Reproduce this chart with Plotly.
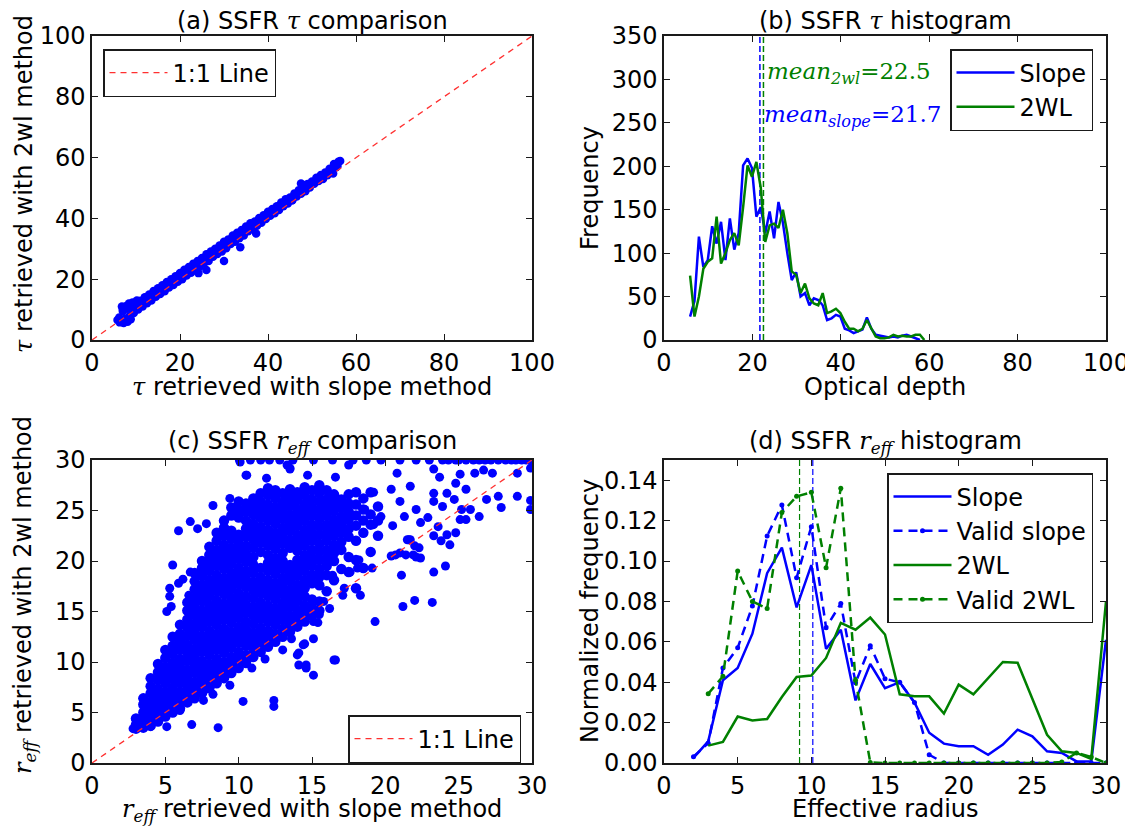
import plotly.graph_objects as go

# page body adds an 8px margin; the figure is laid out in reference pixels minus that offset
OFF = 8
W, H = 1125, 819

# ---------------- Panel (a): tau comparison ----------------
a_x = [6.2, 7, 8, 9, 10, 11, 12, 13, 14, 15, 16, 17, 18, 19, 20, 21, 22, 23, 24, 25, 26, 27, 28, 29, 30,
       31, 32, 33, 34, 35, 36, 37, 38, 39, 40, 41, 42, 43, 44, 45, 46, 47, 48, 49, 50, 51, 52, 53, 54, 55, 56,
       6.5, 7.5, 8.5, 9.5, 10.5, 11.5, 12.5, 13.5, 14.5, 15.5, 16.5, 17.5, 18.5, 19.5, 20.5, 21.5, 22.5, 23.5,
       24.5, 25.5, 26.5, 27.5, 28.5, 29.5, 30.5, 31.5, 32.5, 33.5, 34.5, 35.5, 36.5, 37.5, 38.5, 39.5, 40.5,
       41.5, 42.5, 43.5, 44.5, 45.5, 46.5, 47.5, 48.5, 49.5, 50.5, 51.5, 52.5, 53.5, 54.5, 55.5,
       6.3, 7.2, 8.1, 8.8, 7.8, 8.4, 9.2, 10.2, 5.8, 6.8, 7.0, 30.0, 33.7, 26.0, 24.2, 37.3, 48.0, 47.5, 45.5,
       54.8, 56.4, 55.8, 51.8]
a_y = [7.4, 9.5, 10.3, 11.0, 12.0, 12.9, 14.1, 15.0, 16.1, 17.0, 18.0, 19.1, 20.0, 21.0, 22.0, 23.1, 24.0, 25.1,
       26.0, 27.0, 28.2, 29.1, 30.0, 31.1, 32.3, 33.1, 34.4, 35.3, 36.2, 37.3, 38.4, 39.0, 40.1, 41.0, 42.2,
       43.1, 44.0, 45.2, 46.3, 46.9, 48.2, 49.3, 50.4, 51.3, 52.1, 53.4, 54.3, 55.1, 56.3, 57.9, 58.6,
       6.2, 7.0, 7.8, 8.9, 10.0, 11.0, 12.1, 13.0, 14.2, 15.1, 16.0, 17.3, 18.1, 19.2, 20.0, 21.2, 22.1, 23.0,
       24.2, 25.3, 26.0, 27.4, 28.3, 29.1, 30.2, 31.6, 32.3, 33.5, 34.4, 35.8, 36.5, 37.6, 38.6, 39.8, 40.9,
       41.7, 42.8, 44.0, 44.9, 46.0, 47.2, 48.1, 48.9, 50.2, 51.4, 52.3, 53.0, 54.2, 55.6, 56.8,
       5.8, 5.6, 6.0, 6.8, 11.2, 12.0, 12.3, 13.0, 6.6, 11.0, 10.2, 26.0, 30.5, 23.0, 22.0, 35.0, 51.0, 51.5, 46.0,
       54.8, 58.9, 57.2, 53.0]
one_to_one_a = [0, 100]

# ---------------- Panel (b): tau histogram ----------------
b_bins = [5.9, 6.9, 7.9, 8.9, 9.9, 10.9, 11.9, 12.9, 13.9, 14.9, 15.9, 16.9, 17.9, 18.9, 19.9, 20.9, 21.9,
          22.9, 23.9, 24.9, 25.9, 26.9, 27.9, 28.9, 29.9, 30.9, 31.9, 32.9, 33.9, 34.9, 35.9, 36.9, 37.9,
          38.9, 39.9, 40.9, 41.9, 42.9, 43.9, 44.9, 45.9, 46.9, 47.9, 48.9, 49.9, 50.9, 51.9, 52.9, 53.9,
          54.9, 55.9, 56.9, 57.9, 58.9]
b_slope = [27, 45, 119, 84, 92, 131, 111, 136, 92, 140, 104, 123, 201, 209, 198, 142, 153, 123, 148, 117,
           159, 135, 100, 69, 78, 50, 54, 40, 48, 46, 40, 23, 25, 29, 27, 13, 11, 8, 10, 12, 26, 13, 6, 5,
           4, 3, 4, 3, 5, 6, 4, 2, 0, None]
b_2wl = [74, 27, 50, 82, 90, 94, 142, 88, 100, 115, 123, 109, 153, 201, 188, 205, 175, 113, 132, 134, 129,
         150, 123, 79, 75, 54, 65, 48, 42, 40, 54, 31, 33, 36, 31, 21, 13, 13, 10, 13, 23, 13, 4, 2, 2, 3,
         6, 4, 5, 4, 4, 6, 6, 0]
b_mean_slope = 21.7
b_mean_2wl = 22.5
b_ymax = 350

# ---------------- Panel (c): r_eff comparison ----------------
c_core_cols_x = [3.0, 3.5, 4.0, 4.5, 5.0, 5.5, 6.0, 6.5, 7.0, 7.5, 8.0, 8.5, 9.0, 9.5, 10.0, 10.5, 11.0,
                 11.5, 12.0, 12.5, 13.0, 13.5, 14.0, 14.5, 15.0, 15.5, 16.0, 16.5, 17.0, 17.5, 18.0, 18.5,
                 19.0, 19.5]
c_core_cols_y = [
    [3.4, 3.8, 4.4],
    [3.5, 4.2, 5.0, 5.8, 6.4],
    [3.7, 4.5, 5.3, 6.0, 6.9, 7.6, 8.4],
    [4.1, 4.9, 5.7, 6.5, 7.3, 8.2, 9.0, 9.8],
    [4.6, 5.4, 6.2, 7.0, 7.9, 8.7, 9.5, 10.4, 11.2],
    [5.0, 5.8, 6.6, 7.4, 8.3, 9.1, 9.9, 10.8, 11.6, 12.5],
    [5.4, 6.2, 7.0, 7.9, 8.7, 9.5, 10.3, 11.2, 12.0, 12.8, 13.7],
    [6.0, 6.8, 7.6, 8.4, 9.2, 10.1, 10.9, 11.7, 12.6, 13.4, 14.2, 15.1, 15.9],
    [6.4, 7.2, 8.0, 8.9, 9.7, 10.5, 11.3, 12.2, 13.0, 13.8, 14.7, 15.5, 16.3, 17.2, 18.0, 18.8],
    [6.9, 7.7, 8.5, 9.3, 10.1, 11.0, 11.8, 12.6, 13.5, 14.3, 15.1, 16.0, 16.8, 17.6, 18.5, 19.3, 20.0],
    [7.4, 8.2, 9.0, 9.8, 10.7, 11.5, 12.3, 13.1, 14.0, 14.8, 15.6, 16.5, 17.3, 18.1, 19.0, 19.8, 20.6, 21.4],
    [7.9, 8.7, 9.5, 10.3, 11.2, 12.0, 12.8, 13.7, 14.5, 15.3, 16.1, 17.0, 17.8, 18.6, 19.5, 20.3, 21.1,
     22.0, 22.8],
    [8.4, 9.2, 10.0, 10.9, 11.7, 12.5, 13.3, 14.2, 15.0, 15.8, 16.7, 17.5, 18.3, 19.2, 20.0, 20.8, 21.6,
     22.5, 23.3, 24.0],
    [8.9, 9.7, 10.5, 11.4, 12.2, 13.0, 13.9, 14.7, 15.5, 16.3, 17.2, 18.0, 18.8, 19.7, 20.5, 21.3, 22.2,
     23.0, 24.5, 25.3],
    [9.4, 10.2, 11.0, 11.9, 12.7, 13.5, 14.4, 15.2, 16.0, 16.8, 17.7, 18.5, 19.3, 20.2, 21.0, 21.8, 22.6,
     24.3, 25.1, 25.9],
    [9.9, 10.7, 11.6, 12.4, 13.2, 14.0, 14.9, 15.7, 16.5, 17.4, 18.2, 19.0, 19.9, 20.7, 21.5, 22.4, 23.2,
     24.0, 24.9, 25.7],
    [10.5, 11.3, 12.1, 12.9, 13.8, 14.6, 15.4, 16.3, 17.1, 17.9, 18.8, 19.6, 20.4, 21.3, 22.1, 22.9, 23.7,
     24.6, 25.4, 26.2],
    [11.0, 11.8, 12.6, 13.4, 14.3, 15.1, 15.9, 16.8, 17.6, 18.4, 19.3, 20.9, 21.8, 22.6, 23.4, 24.3, 25.1,
     25.9, 26.7],
    [11.5, 12.3, 13.1, 14.0, 14.8, 15.6, 16.5, 17.3, 18.1, 19.0, 19.8, 20.6, 21.5, 22.3, 23.1, 24.0, 24.8,
     25.6, 26.5, 27.2],
    [12.0, 12.8, 13.7, 14.5, 15.3, 16.2, 17.0, 17.8, 18.7, 19.5, 20.3, 21.2, 22.0, 22.8, 23.7, 24.5, 25.3,
     26.2, 27.0],
    [12.5, 13.3, 14.2, 15.0, 15.8, 16.7, 17.5, 18.3, 19.2, 20.0, 20.8, 21.7, 22.5, 23.3, 24.2, 25.0, 25.8,
     26.7],
    [13.0, 13.8, 14.6, 15.5, 16.3, 17.1, 18.0, 18.8, 19.6, 21.3, 22.1, 23.0, 23.8, 24.6, 25.5, 26.3, 27.1],
    [13.5, 14.3, 15.1, 16.0, 16.8, 17.6, 18.5, 19.3, 20.1, 21.0, 21.8, 22.6, 23.5, 24.3, 25.1, 26.0, 26.8],
    [14.0, 14.8, 15.6, 16.5, 17.3, 18.1, 19.0, 19.8, 20.6, 21.5, 22.3, 23.1, 24.0, 24.8, 25.6, 26.5, 27.3],
    [14.6, 15.4, 16.2, 17.8, 18.6, 19.5, 20.3, 21.1, 22.0, 22.8, 23.6, 24.5, 25.3, 26.1, 27.0],
    [15.1, 16.0, 17.6, 18.4, 19.2, 20.1, 20.9, 21.7, 22.6, 23.4, 24.2, 25.1, 25.9, 26.7, 27.5],
    [17.0, 18.6, 19.5, 20.3, 21.1, 22.0, 22.8, 23.6, 24.5, 25.3, 26.1, 27.0],
    [18.1, 20.0, 20.8, 21.6, 22.5, 23.3, 24.1, 25.0, 25.8, 26.6],
    [19.2, 21.1, 21.9, 22.8, 23.6, 24.4, 25.3, 26.1],
    [18.9, 20.4, 22.4, 23.2, 24.1, 24.9, 25.7, 26.6],
    [17.3, 20.1, 22.0, 23.5, 24.5, 25.6, 26.8],
    [19.3, 22.8, 24.0, 25.1, 26.2],
    [20.9, 23.6, 24.6, 26.8],
    [22.5, 24.0, 25.4],
]
c_extra_x = [10.05, 10.8, 11.5, 12.1, 12.8, 13.7, 15.1, 16.4, 17.8, 18.7, 19.7, 21.0, 22.1, 23.0, 23.9,
             24.3, 24.8, 25.0, 25.5, 26.0, 26.4, 26.8, 27.2, 27.7, 28.2, 28.6, 28.9, 29.3, 29.6, 30.0,
             10.55, 11.9, 13.5, 14.7, 16.6, 17.5, 20.8, 23.3, 23.7, 25.1, 26.1, 26.7, 27.3, 29.0, 29.9, 13.3,
             23.3, 24.2, 24.8, 25.5, 22.9, 23.6, 24.2, 24.8, 25.5, 25.8, 26.4, 26.9, 27.7, 27.9, 29.0, 29.9,
             29.9, 23.3, 23.9, 24.7, 25.2, 23.3, 23.8, 24.4, 25.1,
             20.4, 21.0, 21.7, 22.1, 21.3, 20.5, 19.7, 19.2, 18.6, 19.2, 21.7, 22.4, 20.4, 21.0, 21.9, 22.4,
             22.0, 21.6,
             16.2, 15.5, 15.1, 15.1, 14.4, 14.6, 15.1, 16.5, 19.3, 21.2, 22.0, 23.2, 21.1, 23.3, 24.1, 20.7,
             21.4, 22.1, 22.3, 21.5, 19.0, 18.2, 18.1, 17.6, 16.4, 15.5, 16.0, 15.8, 17.2, 18.0, 17.1, 14.1,
             14.1, 14.6, 16.6, 15.4, 14.5, 14.0, 19.1, 18.3,
             5.9, 5.5, 5.3, 5.3, 5.1, 5.4, 6.7, 6.6, 5.9, 6.2, 6.7, 8.25, 7.2, 7.8, 9.4, 10.5, 10.1, 13.5,
             2.8, 3.1, 5.1, 6.8, 8.6, 10.3, 12.4, 12.4, 9.4, 8.25, 4.0, 6.0, 7.6, 10.9, 11.8, 13.0, 13.6]
c_extra_y = [30, 30, 30, 30, 30, 30, 30, 30, 30, 30, 30, 30, 30, 30, 30,
             30, 30, 30, 30, 30, 30, 30, 30, 30, 30, 30, 30, 30, 30, 30,
             28.5, 28.2, 29.1, 28.5, 28.3, 29.5, 28.7, 29.1, 28.3, 28.6, 28.7, 29.0, 28.7, 28.7, 29.2, 29.5,
             26.7, 26.7, 27.7, 27.1, 24.3, 23.4, 22.6, 22.8, 24.1, 25.1, 24.4, 26.1, 26.4, 25.3, 26.4, 26.0,
             25.1, 25.9, 25.4, 26.1, 25.1, 22.5, 22.0, 21.6, 24.1,
             27.1, 25.9, 27.4, 25.1, 24.4, 23.5, 24.4, 23.6, 25.1, 26.8, 22.1, 23.8, 20.5, 20.8, 20.6, 20.3,
             21.5, 22.1,
             15.3, 14.7, 14.0, 12.3, 11.7, 9.7, 8.7, 10.2, 14.0, 15.5, 16.1, 15.9, 18.6, 18.9, 19.5, 20.6,
             20.6, 20.4, 21.3, 22.1, 20.9, 20.1, 19.3, 18.9, 18.6, 18.9, 17.0, 16.0, 17.3, 17.3, 16.6, 10.9,
             9.7, 9.4, 10.2, 13.9, 11.8, 10.7, 19.3, 16.6,
             23.0, 19.6, 17.3, 16.5, 15.0, 15.5, 23.9, 16.6, 17.8, 18.2, 18.9, 25.5, 23.2, 23.7, 26.2, 28.5,
             29.8, 29.2,
             3.4, 3.5, 3.6, 3.8, 3.5, 6.1, 6.2, 5.6, 7.7, 6.8, 3.6, 5.2, 6.2, 9.4, 10.3, 11.2, 12.3]
one_to_one_c = [0, 30]

# ---------------- Panel (d): r_eff histogram ----------------
d_bins = [2, 3, 4, 5, 6, 7, 8, 9, 10, 11, 12, 13, 14, 15, 16, 17, 18, 19, 20, 21, 22, 23, 24, 25, 26, 27,
          28, 29, 30]
d_slope = [0.0025, 0.0107, 0.041, 0.047, 0.064, 0.094, 0.1066, 0.077, 0.098, 0.0565, 0.066, 0.031, 0.049,
           0.037, 0.040, 0.030, 0.015, 0.0096, 0.0083, 0.0083, 0.0041, 0.0091, 0.0165, 0.0132, 0.0058,
           0.005, 0.0008, 0.0008, 0.061]
d_valid_slope = [0.0031, 0.0098, 0.047, 0.057, 0.0777, 0.1124, 0.1277, 0.0917, 0.117, 0.067, 0.079,
                 0.0397, 0.058, 0.0417, 0.040, 0.030, 0.0041, 0, 0, 0, 0, 0, 0, 0, 0, 0, 0, 0, 0]
d_2wl = [None, 0.0086, 0.0104, 0.023, 0.021, 0.0218, 0.0327, 0.0426, 0.0433, 0.052, 0.0694, 0.066, 0.072,
         0.0636, 0.034, 0.033, 0.033, 0.0245, 0.0388, 0.034, 0.042, 0.050, 0.0496, 0.032, 0.014, 0.0058,
         0.005, 0.002, 0.080]
d_valid_2wl = [None, 0.0343, 0.0429, 0.095, 0.080, 0.0765, 0.124, 0.132, 0.134, 0.0967, 0.136, 0.041,
               0.0003, 0, 0, 0, 0, 0, 0, 0, 0, 0, 0, 0, 0, 0.0005, 0.005, 0.003, 0]
d_mean_slope = 10.1
d_mean_2wl = 9.2
d_ymax = 0.15

# ---------------- styling ----------------
BLUE = "#0000FF"
GREEN = "#008000"
RED = "#FF3030"
SANS = "DejaVu Sans"
SERIF = "DejaVu Serif"
FS = 24


def px(xp):
    return (xp - OFF) / W


def py(yp):
    return 1 - (yp - OFF) / H


def m(s):
    return '<span style="font-family:%s"><i>%s</i></span>' % (SERIF, s)


REFF = '<span style="font-family:%s"><i>r</i><sub><i>eff</i></sub></span>' % SERIF

fig = go.Figure()

# (a)
fig.add_trace(go.Scatter(x=a_x, y=a_y, mode="markers", xaxis="x", yaxis="y", showlegend=False,
                         marker=dict(color=BLUE, size=8.5, line=dict(width=0))))
fig.add_trace(go.Scatter(x=one_to_one_a, y=one_to_one_a, mode="lines", xaxis="x", yaxis="y",
                         name="1:1 Line", legend="legend",
                         line=dict(color=RED, width=1.3, dash="6px,5px")))

# (b)
fig.add_trace(go.Scatter(x=[b_mean_slope, b_mean_slope], y=[0, b_ymax], mode="lines", xaxis="x2",
                         yaxis="y2", showlegend=False, line=dict(color=BLUE, width=1.5, dash="6px,3px")))
fig.add_trace(go.Scatter(x=[b_mean_2wl, b_mean_2wl], y=[0, b_ymax], mode="lines", xaxis="x2",
                         yaxis="y2", showlegend=False, line=dict(color=GREEN, width=1.5, dash="6px,3px")))
fig.add_trace(go.Scatter(x=b_bins, y=b_slope, mode="lines", xaxis="x2", yaxis="y2", name="Slope",
                         legend="legend2", line=dict(color=BLUE, width=2.5)))
fig.add_trace(go.Scatter(x=b_bins, y=b_2wl, mode="lines", xaxis="x2", yaxis="y2", name="2WL",
                         legend="legend2", line=dict(color=GREEN, width=2.5)))

# (c)
c_x = []
c_y = []
for cx, ys in zip(c_core_cols_x, c_core_cols_y):
    for yv in ys:
        c_x.append(cx)
        c_y.append(yv)
fig.add_trace(go.Scatter(x=c_x, y=c_y, mode="markers", xaxis="x3", yaxis="y3", showlegend=False,
                         marker=dict(color=BLUE, size=10.5, line=dict(width=0))))
fig.add_trace(go.Scatter(x=c_extra_x, y=c_extra_y, mode="markers", xaxis="x3", yaxis="y3", showlegend=False,
                         marker=dict(color=BLUE, size=9, line=dict(width=0))))
fig.add_trace(go.Scatter(x=one_to_one_c, y=one_to_one_c, mode="lines", xaxis="x3", yaxis="y3",
                         name="1:1 Line", legend="legend3",
                         line=dict(color=RED, width=1.3, dash="6px,5px")))

# (d)
fig.add_trace(go.Scatter(x=[d_mean_2wl, d_mean_2wl], y=[0, d_ymax], mode="lines", xaxis="x4", yaxis="y4",
                         showlegend=False, line=dict(color=GREEN, width=1.2, dash="6px,3px")))
fig.add_trace(go.Scatter(x=[d_mean_slope, d_mean_slope], y=[0, d_ymax], mode="lines", xaxis="x4",
                         yaxis="y4", showlegend=False, line=dict(color=BLUE, width=1.2, dash="6px,3px")))
fig.add_trace(go.Scatter(x=d_bins, y=d_slope, mode="lines", xaxis="x4", yaxis="y4", name="Slope",
                         legend="legend4", line=dict(color=BLUE, width=2.5)))
fig.add_trace(go.Scatter(x=d_bins, y=d_valid_slope, mode="lines+markers", xaxis="x4", yaxis="y4",
                         name="Valid slope", legend="legend4",
                         line=dict(color=BLUE, width=2.5, dash="9px,6px"), marker=dict(color=BLUE, size=5)))
fig.add_trace(go.Scatter(x=d_bins, y=d_2wl, mode="lines", xaxis="x4", yaxis="y4", name="2WL",
                         legend="legend4", line=dict(color=GREEN, width=2.5)))
fig.add_trace(go.Scatter(x=d_bins, y=d_valid_2wl, mode="lines+markers", xaxis="x4", yaxis="y4",
                         name="Valid 2WL", legend="legend4",
                         line=dict(color=GREEN, width=2.5, dash="9px,6px"), marker=dict(color=GREEN, size=5)))


def axis(domain, rng, dtick, anchor, fmt=None, tickvals=None):
    d = dict(domain=domain, range=rng, anchor=anchor, showgrid=False, zeroline=False,
             showline=True, linecolor="#1a1a1a", linewidth=1.5, mirror="ticks",
             ticks="inside", ticklen=6, tickwidth=1, tickcolor="#1a1a1a", automargin=False,
             tickfont=dict(family=SANS, size=FS, color="black"), fixedrange=True)
    if tickvals is not None:
        d["tickvals"] = tickvals
    else:
        d["dtick"] = dtick
        d["tick0"] = 0
    if fmt:
        d["tickformat"] = fmt
    return d


xa = [px(92), px(532)]
xb = [px(664), px(1106)]
yt = [py(340), py(36)]
yb = [py(763), py(460)]


def legend(x, y, xanchor):
    return dict(x=x, y=y, xanchor=xanchor, yanchor="top", xref="paper", yref="paper",
                bgcolor="white", bordercolor="#1a1a1a", borderwidth=1.5,
                font=dict(family=SANS, size=FS, color="black"), itemwidth=58)


annotations = []


def ann(text, x, y, size=FS, angle=0, color="black", xanchor="center"):
    annotations.append(dict(text=text, x=x, y=y, xref="paper", yref="paper", showarrow=False,
                            xanchor=xanchor, yanchor="middle", textangle=angle,
                            font=dict(family=SANS, size=size, color=color)))


# titles
ann("(a) SSFR " + m("τ") + " comparison", px(312), py(21))
ann("(b) SSFR " + m("τ") + " histogram", px(885), py(21))
ann("(c) SSFR " + REFF + " comparison", px(312), py(442))
ann("(d) SSFR " + REFF + " histogram", px(885), py(442))
# axis titles
ann(m("τ") + " retrieved with slope method", px(312), py(387))
ann("Optical depth", px(885), py(387))
ann(REFF + " retrieved with slope method", px(312), py(810))
ann("Effective radius", px(885), py(809))
ann(m("τ") + " retrieved with 2wl method", px(24), py(184), angle=-90)
ann("Frequency", px(590), py(188), angle=-90)
ann(REFF + " retrieved with 2wl method", px(24), py(595), angle=-90)
ann("Normalized frequency", px(590), py(611), angle=-90)
# mean labels in (b)
annotations.append(dict(text='<i>mean</i><sub><i>2wl</i></sub>=22.5', x=22.85, y=307, xref="x2", yref="y2",
                        showarrow=False, xanchor="left", yanchor="middle",
                        font=dict(family=SERIF, size=23, color=GREEN)))
annotations.append(dict(text='<i>mean</i><sub><i>slope</i></sub>=21.7', x=22.2, y=258, xref="x2", yref="y2",
                        showarrow=False, xanchor="left", yanchor="middle",
                        font=dict(family=SERIF, size=23, color=BLUE)))

fig.update_layout(
    width=W, height=H, autosize=False,
    margin=dict(l=0, r=0, t=0, b=0, autoexpand=False),
    paper_bgcolor="white", plot_bgcolor="white",
    font=dict(family=SANS, size=FS, color="black"),
    xaxis=axis(xa, [0, 100], 20, "y"),
    yaxis=axis(yt, [0, 100], 20, "x"),
    xaxis2=axis(xb, [0, 100], 20, "y2"),
    yaxis2=axis(yt, [0, 350], 50, "x2"),
    xaxis3=axis(xa, [0, 30], 5, "y3"),
    yaxis3=axis(yb, [0, 30], 5, "x3"),
    xaxis4=axis(xb, [0, 30], 5, "y4"),
    yaxis4=axis(yb, [0, 0.15], None, "x4", fmt=".2f",
                tickvals=[0, 0.02, 0.04, 0.06, 0.08, 0.10, 0.12, 0.14]),
    legend=legend(px(103), py(49), "left"),
    legend2=legend(px(1093), py(49), "right"),
    legend3=legend(px(521), py(715), "right"),
    legend4=legend(px(1093), py(473), "right"),
    annotations=annotations,
    showlegend=True,
)

fig.write_html("out.html")
